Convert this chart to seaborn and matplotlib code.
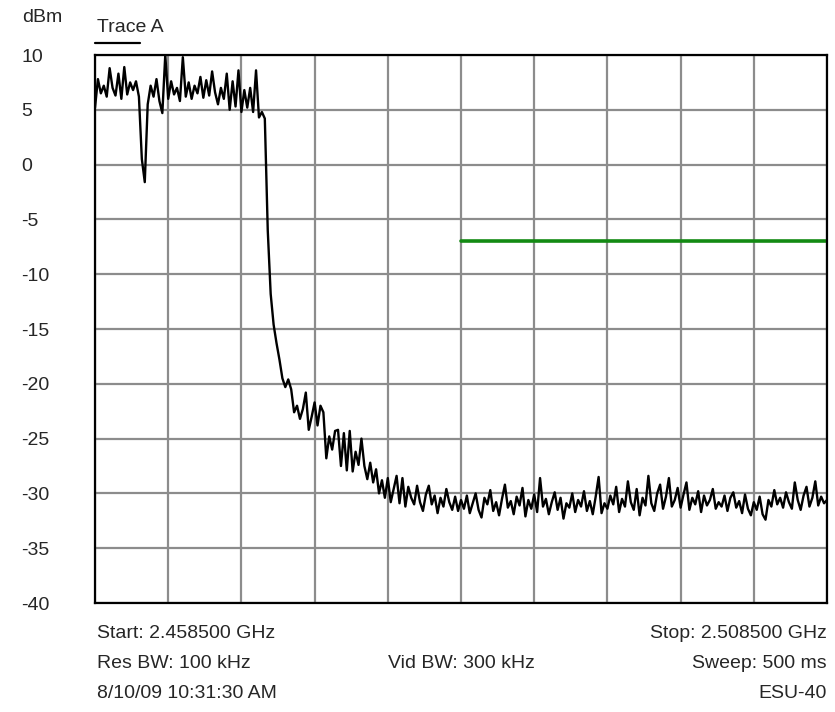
import numpy as np
import pandas as pd
import matplotlib
matplotlib.use('Agg')
import matplotlib.pyplot as plt
import seaborn as sns

# Sweep settings (GHz)
start_ghz = 2.4585
stop_ghz = 2.5085

# Trace A, dBm (evenly spaced sweep points)
trace_a = [
    5.2, 7.8, 6.5, 7.2, 6.2, 8.8, 7.0, 6.3, 8.3, 6.0,
    8.9, 6.4, 7.5, 6.8, 7.6, 6.2, 0.5, -1.6, 5.5, 7.2,
    6.2, 7.8, 5.8, 4.7, 10.0, 6.0, 7.6, 6.4, 7.0, 5.8,
    9.8, 6.2, 7.5, 6.0, 7.2, 6.5, 8.0, 6.1, 7.7, 6.3,
    8.5, 6.6, 5.5, 7.0, 6.0, 8.3, 5.0, 7.6, 5.3, 8.6,
    4.8, 6.8, 5.2, 7.0, 4.8, 8.6, 4.3, 4.8, 4.2, -6.0,
    -11.8, -14.6, -16.3, -17.8, -19.5, -20.3, -19.6, -20.5, -22.6, -22.0,
    -23.2, -22.3, -20.8, -24.2, -23.0, -21.7, -23.8, -22.0, -22.6, -26.8,
    -24.8, -26.0, -24.3, -24.2, -27.5, -24.5, -27.9, -24.3, -28.0, -26.2,
    -27.4, -25.0, -27.5, -28.7, -27.2, -29.0, -27.8, -30.0, -28.8, -30.4,
    -28.6, -30.8, -29.6, -28.4, -30.9, -28.6, -31.2, -29.4, -30.4, -31.0,
    -29.3, -30.8, -31.6, -30.1, -29.3, -31.0, -30.2, -31.8, -30.4, -31.2,
    -29.6, -30.8, -31.5, -30.3, -31.6, -30.6, -31.4, -30.2, -31.8, -30.9,
    -30.0, -31.5, -32.2, -30.4, -31.0, -29.7, -31.6, -30.8, -32.0, -30.5,
    -29.2, -31.3, -30.7, -31.9, -30.3, -31.1, -29.5, -32.1, -30.6, -31.4,
    -30.1, -31.7, -28.6, -31.2, -30.5, -31.9, -30.8, -29.9, -31.5, -30.4,
    -32.3, -30.9, -31.3, -30.0, -31.7, -30.6, -31.2, -29.8, -31.6, -30.7,
    -31.9, -30.3, -28.5, -31.8, -30.9, -31.4, -30.2, -31.0, -29.4, -31.7,
    -30.5, -31.2, -28.9, -30.8, -31.5, -29.6, -32.0, -30.4, -31.1, -28.4,
    -30.9, -31.6, -30.0, -29.2, -31.4, -30.3, -28.6, -31.2, -30.6, -29.5,
    -31.3, -30.1, -29.0, -31.5, -30.4, -31.0, -29.8, -31.7, -30.2, -31.1,
    -30.6, -29.6, -31.4, -30.8, -31.2, -30.2, -31.6, -30.4, -29.9, -31.3,
    -30.7, -31.8, -30.1, -31.4, -32.0, -30.8, -31.5, -30.3, -31.9, -32.4,
    -30.6, -31.2, -29.7, -31.0, -30.4, -31.3, -29.9, -30.8, -31.4, -29.0,
    -30.6, -31.5, -30.2, -29.4, -31.2, -30.4, -28.9, -31.1, -30.3, -30.9,
    -30.6,
]

# Limit line (green)
limit_ghz = [2.4835, 2.5085]
limit_dbm = [-7.0, -7.0]

y_ticks = [10, 5, 0, -5, -10, -15, -20, -25, -30, -35, -40]

footer_left = ["Start: 2.458500 GHz", "Res BW: 100 kHz", "8/10/09 10:31:30 AM"]
footer_mid = ["", "Vid BW: 300 kHz", ""]
footer_right = ["Stop: 2.508500 GHz", "Sweep: 500 ms", "ESU-40"]

sns.set_style("white")
plt.rcParams['font.family'] = ['Liberation Sans', 'DejaVu Sans']

freq = np.linspace(start_ghz, stop_ghz, len(trace_a))
df = pd.DataFrame({'freq': freq, 'dbm': trace_a})

fig = plt.figure(figsize=(8.35, 7.12), dpi=100)
ax = fig.add_axes([95 / 835, 1 - 603 / 712, 732 / 835, 548 / 712])

sns.lineplot(data=df, x='freq', y='dbm', ax=ax, color='black', lw=1.7)
sns.lineplot(x=limit_ghz, y=limit_dbm, ax=ax, color='#138a13', lw=2.6)

ax.set_xlim(start_ghz, stop_ghz)
ax.set_ylim(-40, 10)
ax.set_xticks(np.linspace(start_ghz, stop_ghz, 11))
ax.set_xticklabels([])
ax.set_yticks(y_ticks)
ax.set_yticklabels([str(t) for t in y_ticks], ha='left', fontsize=14)
ax.tick_params(axis='both', length=0)
ax.tick_params(axis='y', pad=53)
ax.grid(True, color='#8c8c8c', lw=1.6)
ax.set_axisbelow(True)
ax.set_xlabel('')
ax.set_ylabel('')
for s in ax.spines.values():
    s.set_color('black')
    s.set_linewidth(1.6)

# header
fig.text(22 / 835, 1 - 18 / 712, "dBm", fontsize=14, ha='left', va='center')
fig.text(97 / 835, 1 - 28 / 712, "Trace A", fontsize=14, ha='left', va='center')
fig.add_artist(plt.Line2D([95 / 835, 140 / 835], [1 - 43 / 712, 1 - 43 / 712],
                          color='black', lw=1.6))

# footer
rows_y = [634, 664, 694]
for yy, l, m, r in zip(rows_y, footer_left, footer_mid, footer_right):
    fy = 1 - yy / 712
    fig.text(97 / 835, fy, l, fontsize=14, ha='left', va='center')
    fig.text(461 / 835, fy, m, fontsize=14, ha='center', va='center')
    fig.text(827 / 835, fy, r, fontsize=14, ha='right', va='center')

fig.savefig('out.png', dpi=100)
